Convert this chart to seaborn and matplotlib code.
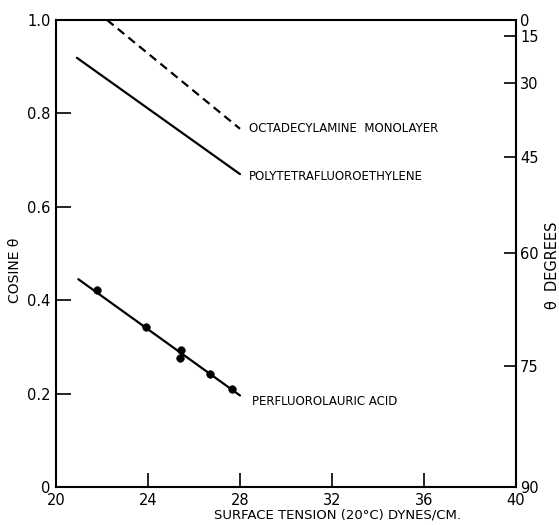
import numpy as np
import pandas as pd
import matplotlib
matplotlib.use("Agg")
import matplotlib.pyplot as plt
import seaborn as sns

# Measured contact-angle points for perfluorolauric acid
pfla_tension = [21.77, 23.90, 25.42, 25.39, 26.71, 27.64]
pfla_cosine = [0.422, 0.342, 0.293, 0.277, 0.242, 0.210]

# Straight-line fits (end points) for each surface
octa_tension = [22.22, 28.0]
octa_cosine = [1.0, 0.767]
ptfe_tension = [20.91, 28.0]
ptfe_cosine = [0.919, 0.670]
pfla_fit_tension = [20.97, 28.0]
pfla_fit_cosine = [0.445, 0.196]

x_ticks = [20, 24, 28, 32, 36, 40]
y_ticks = [0, 0.2, 0.4, 0.6, 0.8, 1.0]
y_tick_labels = ["0", "0.2", "0.4", "0.6", "0.8", "1.0"]
degree_ticks = [0, 15, 30, 45, 60, 75, 90]

sns.set_style("ticks")
plt.rcParams["font.family"] = ["DejaVu Sans"]
plt.rcParams["text.color"] = "black"
plt.rcParams["axes.labelcolor"] = "black"

fig = plt.figure(figsize=(5.59, 5.25), dpi=100)
ax = fig.add_axes([56 / 559, 1 - 487 / 525, 460 / 559, 467 / 525])

lw = 1.6
sns.lineplot(x=octa_tension, y=octa_cosine, ax=ax, color="black", lw=lw,
             dashes=False, linestyle=(0, (3.8, 2.4)))
sns.lineplot(x=ptfe_tension, y=ptfe_cosine, ax=ax, color="black", lw=lw)
sns.lineplot(x=pfla_fit_tension, y=pfla_fit_cosine, ax=ax, color="black", lw=lw)
sns.scatterplot(x=pfla_tension, y=pfla_cosine, ax=ax, color="black", s=30,
                edgecolor="black", zorder=5)

ax.set_xlim(20, 40)
ax.set_ylim(0, 1.0)
ax.set_xticks(x_ticks)
ax.set_xticklabels([str(t) for t in x_ticks])
ax.set_yticks(y_ticks)
ax.set_yticklabels(y_tick_labels)

for side in ["left", "right", "top", "bottom"]:
    ax.spines[side].set_visible(True)
    ax.spines[side].set_linewidth(1.5)
    ax.spines[side].set_color("black")

ax.tick_params(axis="both", direction="in", length=10, width=1.2,
               labelsize=10.5, pad=4, colors="black")
ax.tick_params(axis="y", length=11)
for i in (0, len(x_ticks) - 1):
    ax.xaxis.get_major_ticks()[i].tick1line.set_visible(False)
for i in (0, len(y_ticks) - 1):
    ax.yaxis.get_major_ticks()[i].tick1line.set_visible(False)

# Secondary scale: the contact angle in degrees
ax2 = ax.twinx()
ax2.set_ylim(0, 1.0)
ax2.set_yticks(np.cos(np.radians(degree_ticks)))
ax2.set_yticklabels([str(d) for d in degree_ticks])
ax2.tick_params(axis="y", direction="in", length=9, width=1.2,
                labelsize=10.5, pad=3, colors="black")
for i in (0, len(degree_ticks) - 1):
    ax2.yaxis.get_major_ticks()[i].tick2line.set_visible(False)
for side in ["left", "right", "top", "bottom"]:
    ax2.spines[side].set_visible(False)

ax.set_xlabel("SURFACE TENSION (20°C) DYNES/CM.", fontsize=9.5, color="black")
ax.xaxis.set_label_coords(0.611, -0.046)
ax.set_ylabel("COSINE θ", fontsize=10, color="black")
ax.yaxis.set_label_coords(-0.074, 0.463)
ax2.set_ylabel("θ  DEGREES", fontsize=10.5, color="black")
ax2.yaxis.set_label_coords(1.063, 0.475)

ax.text(28.4, 0.767, "OCTADECYLAMINE  MONOLAYER", fontsize=8.5, va="center", color="black")
ax.text(28.4, 0.664, "POLYTETRAFLUOROETHYLENE", fontsize=8.5, va="center", color="black")
ax.text(28.5, 0.183, "PERFLUOROLAURIC ACID", fontsize=8.5, va="center", color="black")

fig.savefig("out.png", dpi=100, facecolor="white")
